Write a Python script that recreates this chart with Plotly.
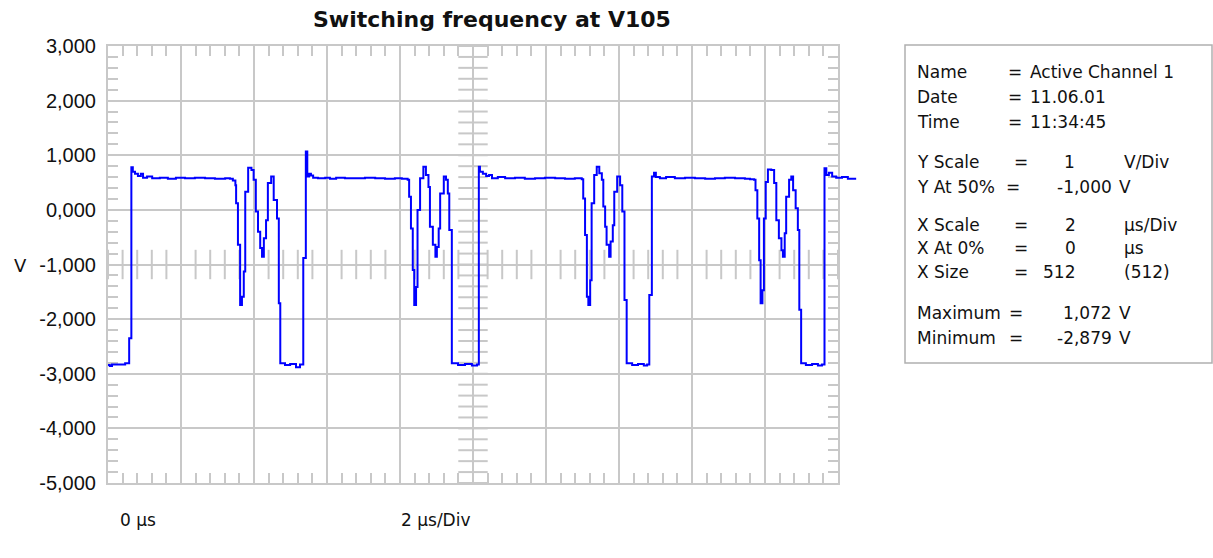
import plotly.graph_objects as go
import numpy as np

# ---------------- data ----------------
time_us = [
    0.00, 0.05, 0.11, 0.33, 0.47, 0.58, 0.64, 0.68, 0.74, 0.82, 0.90, 0.96, 1.07, 1.21, 1.42, 1.64,
    1.86, 2.11, 2.38, 2.66, 2.93, 3.21, 3.34, 3.42, 3.49,
    3.51, 3.56, 3.62, 3.67, 3.72, 3.76, 3.84, 3.93, 3.99, 4.05, 4.11, 4.17, 4.22, 4.27, 4.33,
    4.38, 4.47, 4.54, 4.63, 4.68, 4.72,
    4.85, 4.99, 5.15, 5.26, 5.35, 5.42, 5.46, 5.51, 5.56, 5.62, 5.75, 5.95, 6.08, 6.25, 6.49,
    6.77, 7.04, 7.32, 7.59, 7.86, 8.05, 8.21,
    8.25, 8.30, 8.35, 8.39, 8.44, 8.48, 8.55, 8.64, 8.71, 8.78, 8.82, 8.90, 8.97, 9.01, 9.06,
    9.10, 9.20, 9.26, 9.31, 9.35, 9.42,
    9.59, 9.78, 9.97, 10.11, 10.16, 10.19, 10.27, 10.36, 10.44, 10.52, 10.68, 10.88, 11.15,
    11.42, 11.70, 11.97, 12.25, 12.52, 12.79, 12.98,
    13.02, 13.07, 13.12, 13.16, 13.21, 13.25, 13.32, 13.39, 13.46, 13.53, 13.57, 13.62, 13.66,
    13.73, 13.77, 13.83, 13.87, 13.95, 14.03, 14.09, 14.15, 14.21,
    14.36, 14.52, 14.68, 14.77, 14.83, 14.90, 14.96, 15.01, 15.12, 15.29, 15.53, 15.81, 16.08,
    16.36, 16.63, 16.90, 17.18, 17.45, 17.59, 17.70,
    17.74, 17.79, 17.84, 17.88, 17.93, 17.97, 18.02, 18.08, 18.17, 18.25, 18.31, 18.38, 18.45,
    18.49, 18.54, 18.58, 18.66, 18.72, 18.77, 18.84, 18.90, 18.94, 18.99,
    19.12, 19.29, 19.45, 19.56, 19.63, 19.68, 19.75, 19.84, 19.95, 20.11, 20.27, 20.47,
]
volts = [
    -2.84, -2.86, -2.83, -2.83, -2.81, -2.35, 0.78, 0.70, 0.66, 0.62, 0.66, 0.59, 0.61, 0.58, 0.59, 0.57,
    0.59, 0.58, 0.59, 0.58, 0.57, 0.58, 0.57, 0.54, 0.45,
    0.12, -0.64, -1.74, -1.59, -1.13, 0.33, 0.77, 0.73, 0.55, -0.03, -0.40, -0.70, -0.86, -0.52, -0.19,
    0.49, 0.61, 0.18, -0.16, -1.71, -2.81,
    -2.84, -2.82, -2.88, -2.83, -0.88, 1.07, 0.61, 0.66, 0.63, 0.59, 0.58, 0.59, 0.57, 0.59, 0.58,
    0.58, 0.59, 0.58, 0.57, 0.58, 0.57, 0.55,
    0.24, -0.34, -1.10, -1.74, -1.41, 0.00, 0.58, 0.79, 0.64, 0.42, -0.31, -0.64, -0.86, -0.68, -0.34,
    0.30, 0.61, 0.55, 0.30, -0.37, -2.81,
    -2.84, -2.82, -2.85, -2.83, 0.79, 0.70, 0.66, 0.62, 0.64, 0.58, 0.60, 0.58, 0.59,
    0.57, 0.58, 0.59, 0.58, 0.57, 0.58, 0.56,
    0.21, -0.46, -1.59, -1.74, -1.29, 0.12, 0.64, 0.79, 0.67, 0.55, 0.06, -0.31, -0.64,
    -0.86, -0.58, -0.28, 0.33, 0.61, 0.45, -0.03, -1.65, -2.81,
    -2.84, -2.82, -2.85, -2.83, -1.56, 0.61, 0.68, 0.60, 0.58, 0.60, 0.58, 0.59, 0.58,
    0.57, 0.58, 0.59, 0.58, 0.57, 0.56, 0.55,
    0.36, -0.16, -0.92, -1.71, -1.47, -0.16, 0.51, 0.74, 0.73, 0.49, -0.19, -0.52, -0.74,
    -0.86, -0.43, 0.24, 0.55, 0.61, 0.36, 0.03, -0.37, -1.83, -2.81,
    -2.84, -2.82, -2.85, -2.83, 0.76, 0.64, 0.68, 0.61, 0.59, 0.60, 0.57, 0.59,
]

y_tick_vals = [3, 2, 1, 0, -1, -2, -3, -4, -5]
y_tick_text = ["3,000", "2,000", "1,000", "0,000", "-1,000", "-2,000", "-3,000", "-4,000", "-5,000"]

info_labels = ["Name", "Date", "Time", "Y Scale", "Y At 50%", "X Scale", "X At 0%", "X Size", "Maximum", "Minimum"]
info_values = ["Active Channel 1", "11.06.01", "11:34:45", "1", "-1,000", "2", "0", "512", "1,072", "-2,879"]
info_units = ["", "", "", "V/Div", "V", "µs/Div", "µs", "(512)", "V", "V"]

# ---------------- geometry (pixels) ----------------
W, H = 1213, 558
L, T, R_EDGE, B = 108, 46, 870, 483       # plot area incl. overflow of trace
FRAME_R = 838                              # right edge of the graticule
PW, PH = R_EDGE - L, B - T
X_MAX = 20.0
PX_PER_US = (FRAME_R - L) / X_MAX


def px2x(px):
    return (px - L) / PW


def px2y(py):
    return (B - py) / PH


GRID = "#c8c8c8"
FONT = "DejaVu Sans"

fig = go.Figure()

# crossing ticks on the centre lines of the graticule
cx_ticks = np.round(np.arange(0, X_MAX + 1e-9, 0.4), 3)
cy_ticks = np.round(np.arange(-5, 3 + 1e-9, 0.2), 3)
fig.add_trace(go.Scatter(
    x=cx_ticks, y=[-1] * len(cx_ticks), mode="markers", xaxis="x", yaxis="y",
    marker=dict(symbol="line-ns", size=21, line=dict(width=2, color=GRID)),
    hoverinfo="skip", showlegend=False))
fig.add_trace(go.Scatter(
    x=[10] * len(cy_ticks), y=cy_ticks, mode="markers", xaxis="x", yaxis="y",
    marker=dict(symbol="line-ew", size=21, line=dict(width=2, color=GRID)),
    hoverinfo="skip", showlegend=False))

# the signal (may run past the right edge of the graticule)
fig.add_trace(go.Scatter(
    x=time_us, y=volts, mode="lines", xaxis="x2", yaxis="y2",
    line=dict(color="#0000ff", width=2, shape="hv"),
    hoverinfo="skip", showlegend=False))

axis_common = dict(
    showgrid=True, gridcolor=GRID, gridwidth=2,
    showline=True, linecolor=GRID, linewidth=2, mirror="ticks",
    ticks="inside", ticklen=10, tickwidth=2, tickcolor=GRID,
    zeroline=False, fixedrange=True,
)

fig.update_layout(
    width=W, height=H,
    margin=dict(l=L, r=W - R_EDGE, t=T, b=H - B, pad=0),
    paper_bgcolor="white", plot_bgcolor="rgba(0,0,0,0)",
    showlegend=False,
    xaxis=dict(
        domain=[0, (FRAME_R - L) / PW], range=[0, X_MAX], dtick=2, tick0=0,
        showticklabels=False, anchor="y",
        minor=dict(dtick=0.4, ticks="inside", ticklen=10, tickwidth=2, tickcolor=GRID, showgrid=False),
        **axis_common),
    yaxis=dict(
        domain=[0, 1], range=[-5, 3], tickvals=y_tick_vals, ticktext=y_tick_text,
        anchor="x", ticklabelstandoff=6,
        tickfont=dict(family="Liberation Sans", size=20, color="#111"),
        minor=dict(dtick=0.2, tick0=0, ticks="inside", ticklen=10, tickwidth=2, tickcolor=GRID, showgrid=False),
        **axis_common),
    xaxis2=dict(domain=[0, 1], range=[0, PW / PX_PER_US], visible=False, anchor="y2", fixedrange=True),
    yaxis2=dict(domain=[0, 1], range=[-5, 3], visible=False, anchor="x2", fixedrange=True),
)

ann = []
# title
ann.append(dict(text="Switching frequency at V105", x=px2x(492), y=px2y(20), xref="paper", yref="paper",
                xanchor="center", yanchor="middle", showarrow=False,
                font=dict(family=FONT, size=22, color="#111", weight="bold")))
# axis unit
ann.append(dict(text="V", x=px2x(12), y=px2y(265), xref="paper", yref="paper",
                xanchor="left", yanchor="middle", showarrow=False,
                font=dict(family=FONT, size=18, color="#111")))
# bottom labels
ann.append(dict(text="0 µs", x=px2x(118), y=px2y(520), xref="paper", yref="paper",
                xanchor="left", yanchor="middle", showarrow=False,
                font=dict(family=FONT, size=17, color="#111")))
ann.append(dict(text="2 µs/Div", x=px2x(399), y=px2y(520), xref="paper", yref="paper",
                xanchor="left", yanchor="middle", showarrow=False,
                font=dict(family=FONT, size=17, color="#111")))

# info box
row_y = [71.7, 96.7, 121.7, 161.7, 186.7, 225.0, 248.3, 271.7, 313.3, 337.7]
eq_x = [1006, 1006, 1006, 1012, 1004, 1012, 1012, 1012, 1007, 1007]
val_pos = [(1028, "left"), (1028, "left"), (1028, "left"), (1069, "center"), (1114, "right"),
           (1070, "center"), (1070, "center"), (1077, "right"), (1114, "right"), (1114, "right")]
unit_x = [0, 0, 0, 1122, 1117, 1122, 1122, 1122, 1117, 1117]
bf = dict(family=FONT, size=17, color="#111")
for i, lab in enumerate(info_labels):
    yy = px2y(row_y[i])
    ann.append(dict(text=lab, x=px2x(915), y=yy, xref="paper", yref="paper",
                    xanchor="left", yanchor="middle", showarrow=False, font=bf))
    ann.append(dict(text="=", x=px2x(eq_x[i]), y=yy, xref="paper", yref="paper",
                    xanchor="left", yanchor="middle", showarrow=False, font=bf))
    vx, va = val_pos[i]
    ann.append(dict(text=info_values[i], x=px2x(vx), y=yy, xref="paper", yref="paper",
                    xanchor=va, yanchor="middle", showarrow=False, font=bf))
    if info_units[i]:
        ann.append(dict(text=info_units[i], x=px2x(unit_x[i]), y=yy, xref="paper", yref="paper",
                        xanchor="left", yanchor="middle", showarrow=False, font=bf))

fig.update_layout(annotations=ann)
fig.add_shape(type="rect", xref="paper", yref="paper",
              x0=px2x(905), x1=px2x(1212), y0=px2y(363), y1=px2y(45),
              line=dict(color="#b0b0b0", width=1.5), fillcolor="rgba(0,0,0,0)", layer="above")

fig.write_html("out.html")
